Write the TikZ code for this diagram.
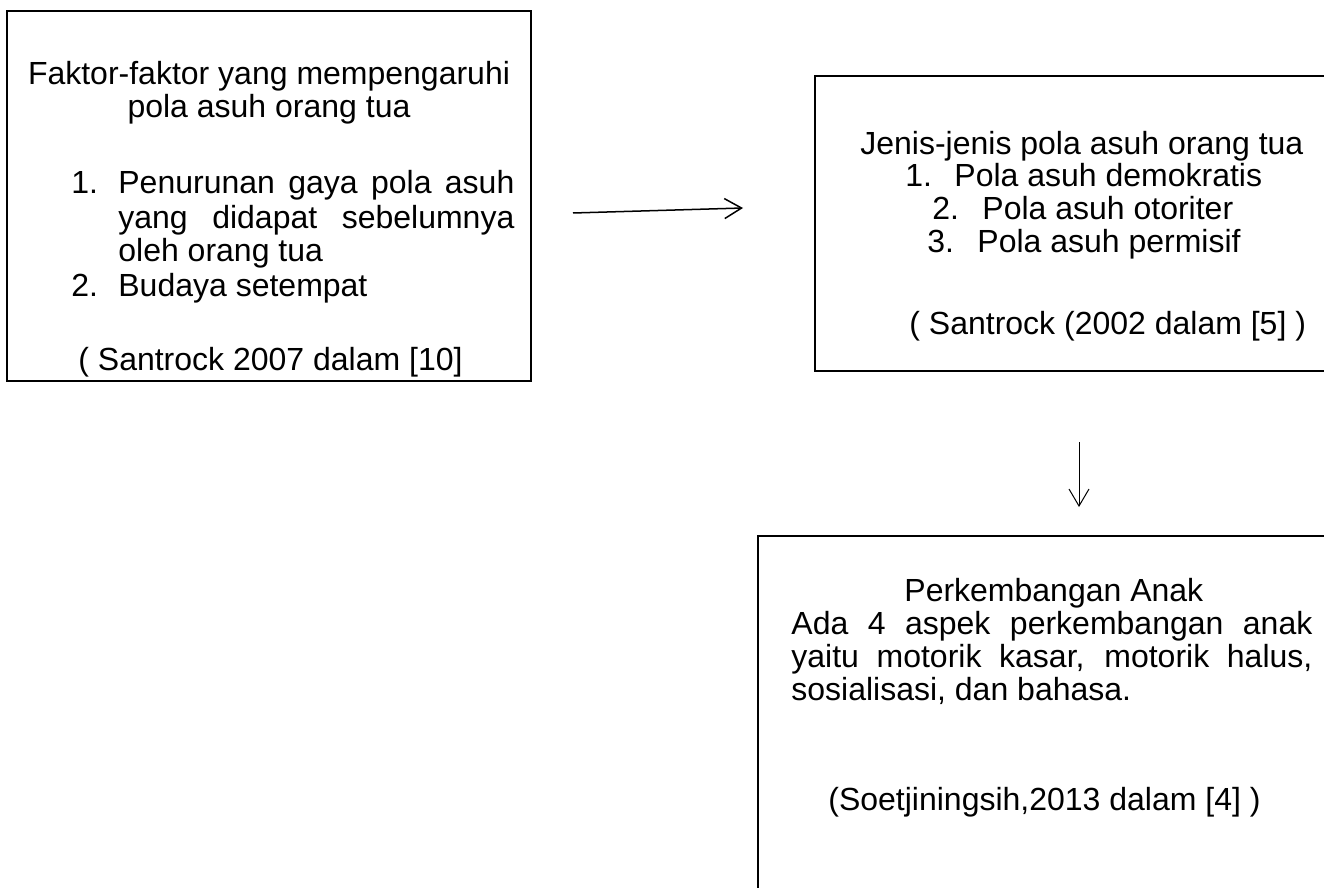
\documentclass[tikz,border=0pt]{standalone}
\usepackage{fontspec}
\setmainfont{Liberation Sans}
\usetikzlibrary{arrows.meta}

\newlength\px
\setlength\px{0.5pt}

\tikzset{
    frame/.style={draw, line width=1pt, inner sep=0pt},
    txt/.style={inner sep=0pt, anchor=base west, font=\fontsize{16pt}{18pt}\selectfont},
    link/.style={-{Straight Barb[length=8.5pt,width=10pt]}},
}

\begin{document}
\begin{tikzpicture}[x=0.5pt, y=-0.5pt]
    \useasboundingbox (0,0) rectangle (1324,888);
    \clip (0,0) rectangle (1324,888);

    % boxes
    \node[frame, minimum width=262pt, minimum height=185pt] (faktor) at (269,196) {};
    \node[frame, minimum width=262.5pt, minimum height=147.5pt] (jenis) at (1077.5,223.5) {};
    \node[frame, minimum width=291pt, minimum height=182pt] (kembang) at (1049,718) {};

    % faktor-faktor
    \node[txt, anchor=base] (f1) at (269,85) {Faktor-faktor yang mempengaruhi};
    \node[txt, anchor=base] (f2) at (269,118) {pola asuh orang tua};
    \node[txt] (f3n) at (71,194) {1.};
    \node[txt] (f3) at (118,194) {\makebox[396\px][s]{Penurunan gaya pola asuh}};
    \node[txt] (f4) at (118,228) {\makebox[396\px][s]{yang didapat sebelumnya}};
    \node[txt] (f5) at (118,262) {oleh orang tua};
    \node[txt] (f6n) at (71,296) {2.};
    \node[txt] (f6) at (118,296) {Budaya setempat};
    \node[txt] (f7) at (78,370) {( Santrock 2007 dalam [10]};

    % jenis-jenis
    \node[txt] (j1) at (860,155) {Jenis-jenis pola asuh orang tua};
    \node[txt] (j2n) at (905,187) {1.};
    \node[txt] (j2) at (954,187) {Pola asuh demokratis};
    \node[txt] (j3n) at (932,220) {2.};
    \node[txt] (j3) at (982,220) {Pola asuh otoriter};
    \node[txt] (j4n) at (927,252) {3.};
    \node[txt] (j4) at (977,252) {Pola asuh permisif};
    \node[txt] (j5) at (909,334) {( Santrock (2002 dalam [5] )};

    % perkembangan anak
    \node[txt] (k1) at (904,601) {Perkembangan Anak};
    \node[txt] (k2) at (791,634) {\makebox[521\px][s]{Ada 4 aspek perkembangan anak}};
    \node[txt] (k3) at (791,667) {\makebox[521\px][s]{yaitu motorik kasar, motorik halus,}};
    \node[txt] (k4) at (791,700) {sosialisasi, dan bahasa.};
    \node[txt] (k5) at (828,810) {(Soetjiningsih,2013 dalam [4] )};

    % arrows
    \coordinate (hA) at (573,213);
    \coordinate (hB) at (743,208);
    \draw[link, line width=0.75pt] (hA) -- (hB);
    \coordinate (vA) at (1079,442);
    \coordinate (vB) at (1079,507);
    \draw[link, line width=0.5pt] (vA) -- (vB);
\end{tikzpicture}
\end{document}
